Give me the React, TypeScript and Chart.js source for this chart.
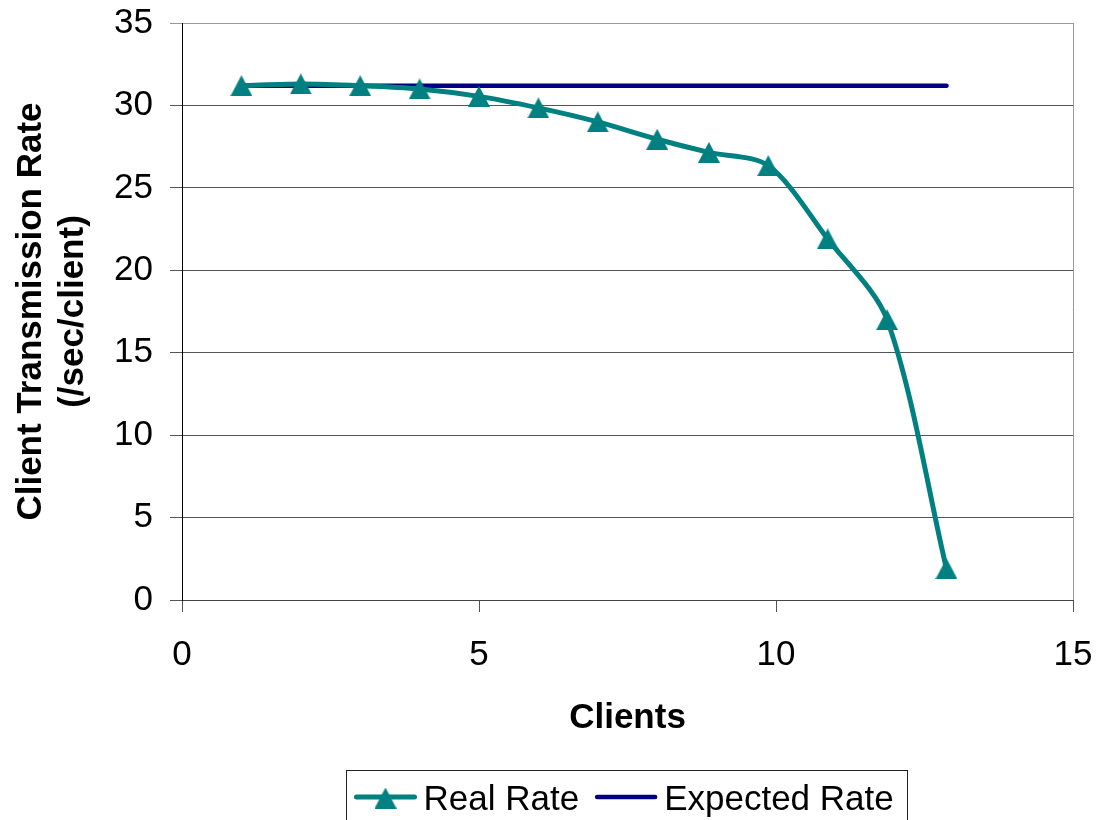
import { useEffect, useRef } from 'react';
import { Chart, registerables } from 'chart.js';

Chart.register(...registerables);

// Number of clients at each measurement
const clients = [1, 2, 3, 4, 5, 6, 7, 8, 8.87, 9.87, 10.87, 11.87, 12.87];
// Measured per-client transmission rate (/sec/client)
const realRate = [31.2, 31.3, 31.2, 31.0, 30.55, 29.85, 29.0, 27.95, 27.15, 26.35, 21.9, 17.0, 1.9];
// Target per-client transmission rate (/sec/client)
const expectedRate = [31.2, 31.2, 31.2, 31.2, 31.2, 31.2, 31.2, 31.2, 31.2, 31.2, 31.2, 31.2, 31.2];

const xMin = 0;
const xMax = 15;
const xStep = 5;
const yMin = 0;
const yMax = 35;
const yStep = 5;

const seriesNames = ['Real Rate', 'Expected Rate'];
const xTitle = 'Clients';
const yTitle = ['Client Transmission Rate', '(/sec/client)'];

const FONT = "'Liberation Sans', Arial, Helvetica, sans-serif";
const TEAL = '#008080';
const NAVY = '#000080';

function triangleMarker(w: number, h: number, color: string): HTMLCanvasElement {
  const c = document.createElement('canvas');
  c.width = w;
  c.height = h;
  const g = c.getContext('2d')!;
  g.fillStyle = color;
  g.beginPath();
  g.moveTo(w / 2, 0);
  g.lineTo(w, h);
  g.lineTo(0, h);
  g.closePath();
  g.fill();
  return c;
}

// Gray frame on the right edge of the plot area
const plotFrame = {
  id: 'plotFrame',
  beforeDatasetsDraw(chart: any) {
    const { ctx, chartArea } = chart;
    ctx.save();
    ctx.strokeStyle = '#999999';
    ctx.lineWidth = 1;
    ctx.beginPath();
    ctx.moveTo(Math.round(chartArea.right) + 0.5, chartArea.top);
    ctx.lineTo(Math.round(chartArea.right) + 0.5, chartArea.bottom);
    ctx.stroke();
    ctx.restore();
  },
};

// Boxed legend below the axis title
const boxedLegend = {
  id: 'boxedLegend',
  afterDraw(chart: any) {
    const { ctx } = chart;
    const datasets = chart.data.datasets;
    const boxLeft = 346.5;
    const boxTop = 770.5;
    const boxRight = 907.5;
    const midY = 797;
    const swatch = 58;
    ctx.save();
    ctx.strokeStyle = '#222222';
    ctx.lineWidth = 1;
    ctx.strokeRect(boxLeft, boxTop, boxRight - boxLeft, 80);

    ctx.font = `35px ${FONT}`;
    ctx.textBaseline = 'alphabetic';
    ctx.fillStyle = '#000000';

    let x = boxLeft + 10;
    datasets.forEach((ds: any) => {
      ctx.strokeStyle = ds.borderColor;
      ctx.lineWidth = ds.borderWidth;
      ctx.lineCap = 'round';
      ctx.beginPath();
      ctx.moveTo(x, midY);
      ctx.lineTo(x + swatch, midY);
      ctx.stroke();
      if (ds.pointStyle instanceof HTMLCanvasElement) {
        const img = ds.pointStyle;
        ctx.drawImage(img, x + swatch / 2 - img.width / 2, midY + 1 - img.height / 2);
      }
      x += swatch + 9;
      ctx.fillStyle = '#000000';
      ctx.fillText(ds.label, x, 810);
      x += ctx.measureText(ds.label).width + 18;
    });
    ctx.restore();
  },
};

export default function App() {
  const canvasRef = useRef<HTMLCanvasElement | null>(null);

  useEffect(() => {
    const canvas = canvasRef.current;
    if (!canvas) return;
    const marker = triangleMarker(22, 21, TEAL);

    const chart = new Chart(canvas, {
      type: 'line',
      data: {
        datasets: [
          {
            label: seriesNames[0],
            data: clients.map((c, i) => ({ x: c, y: realRate[i] })),
            borderColor: TEAL,
            backgroundColor: TEAL,
            borderWidth: 5,
            tension: 0.3,
            pointStyle: marker as any,
            pointRadius: 11,
            fill: false,
          },
          {
            label: seriesNames[1],
            data: clients.map((c, i) => ({ x: c, y: expectedRate[i] })),
            borderColor: NAVY,
            backgroundColor: NAVY,
            borderWidth: 4.5,
            borderCapStyle: 'round',
            tension: 0,
            pointRadius: 0,
            fill: false,
          },
        ],
      },
      options: {
        responsive: false,
        animation: false,
        devicePixelRatio: 1,
        layout: { padding: { left: 0, top: 23, right: 25, bottom: 81 } },
        plugins: {
          legend: { display: false },
          tooltip: { enabled: false },
        },
        scales: {
          x: {
            type: 'linear',
            min: xMin,
            max: xMax,
            afterFit: (s: any) => {
              s.height = 139;
              s.paddingLeft = 0;
              s.paddingRight = 0;
            },
            ticks: {
              stepSize: xStep,
              color: '#000000',
              padding: 22,
              font: { family: FONT, size: 35 },
            },
            grid: {
              drawOnChartArea: false,
              drawTicks: true,
              tickLength: 12,
              color: '#555555',
            },
            border: { color: '#444444', width: 1 },
            title: {
              display: true,
              text: xTitle,
              color: '#000000',
              font: { family: FONT, size: 35, weight: 'bold' },
              padding: { top: 0, bottom: 0 },
            },
          },
          y: {
            type: 'linear',
            min: yMin,
            max: yMax,
            afterFit: (s: any) => {
              s.width = 182;
              s.paddingTop = 0;
              s.paddingBottom = 0;
            },
            ticks: {
              stepSize: yStep,
              color: '#000000',
              padding: 17,
              font: { family: FONT, size: 35 },
            },
            grid: {
              drawTicks: true,
              tickLength: 12,
              color: (ctx: any) => (ctx.tick && ctx.tick.value === yMax ? '#999999' : '#555555'),
            },
            border: { color: '#000000', width: 1 },
            title: {
              display: true,
              text: yTitle,
              color: '#000000',
              font: { family: FONT, size: 35, weight: 'bold' },
              padding: { top: 10, bottom: 0 },
            },
          },
        },
      },
      plugins: [plotFrame, boxedLegend],
    });

    return () => {
      chart.destroy();
    };
  }, []);

  return (
    <div style={{ position: 'fixed', left: 0, top: 0, width: 1098, height: 820, background: '#ffffff' }}>
      <canvas ref={canvasRef} width={1098} height={820} />
    </div>
  );
}
